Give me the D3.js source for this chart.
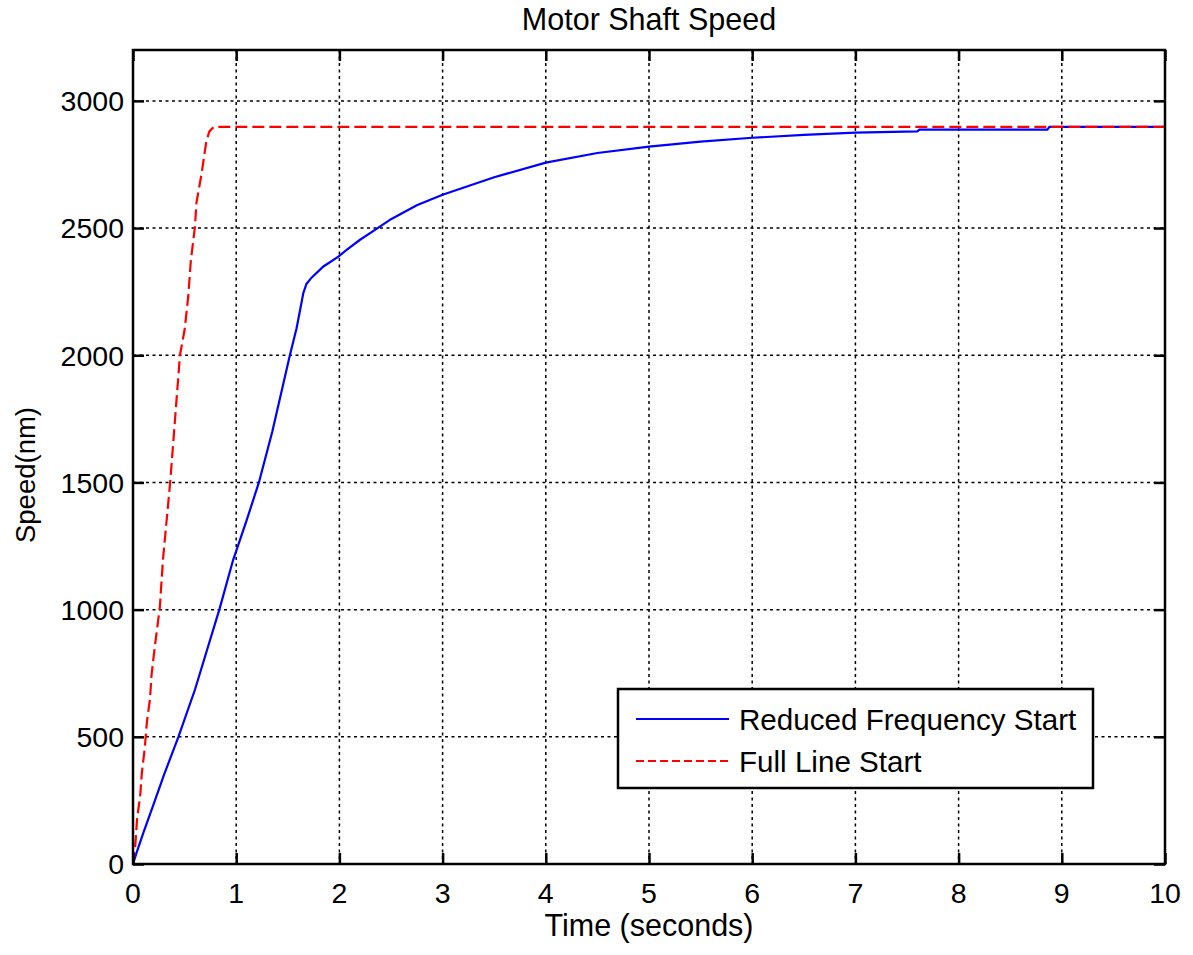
<!DOCTYPE html>
<html>
<head>
<meta charset="utf-8">
<script src="https://cdn.jsdelivr.net/npm/d3@7/dist/d3.min.js"></script>
<style>
  html, body { margin: 0; padding: 0; background: #fff; }
  svg { display: block; }
  text { font-family: Arial, "Liberation Sans", Helvetica, sans-serif; fill: #000; }
</style>
</head>
<body>
<script>
// ---- Data ----
const title = "Motor Shaft Speed";
const xLabel = "Time (seconds)";
const yLabel = "Speed(nm)";
const xTicks = [0, 1, 2, 3, 4, 5, 6, 7, 8, 9, 10];
const yTicks = [0, 500, 1000, 1500, 2000, 2500, 3000];
const seriesNames = ["Reduced Frequency Start", "Full Line Start"];

const reducedT = [0, 0.035, 0.1, 0.2, 0.3, 0.44, 0.6, 0.84, 0.97, 1.1, 1.22, 1.35, 1.52, 1.585, 1.62, 1.65, 1.68, 1.73, 1.845, 1.99, 2.07, 2.2, 2.345, 2.5, 2.75, 3.0, 3.5, 4.0, 4.5, 5.0, 5.5, 6.0, 6.5, 7.0, 7.6, 7.62, 8.86, 8.88, 10];
const reducedV = [0, 45, 122, 235, 350, 500, 685, 1005, 1195, 1350, 1500, 1700, 2000, 2106, 2180, 2244, 2280, 2305, 2349, 2388, 2414, 2454, 2493, 2535, 2590, 2631, 2700, 2757, 2795, 2820, 2840, 2855, 2866, 2875, 2880, 2887, 2887, 2898, 2898];

const fullT = [0, 0.02, 0.04, 0.07, 0.085, 0.115, 0.135, 0.165, 0.18, 0.21, 0.26, 0.29, 0.36, 0.455, 0.50, 0.535, 0.56, 0.60, 0.615, 0.665, 0.71, 0.74, 0.78, 0.8, 10];
const fullV = [0, 60, 180, 270, 355, 460, 560, 650, 745, 850, 1010, 1195, 1500, 2000, 2100, 2230, 2370, 2505, 2600, 2715, 2840, 2880, 2897, 2898, 2898];

// ---- Layout ----
const W = 1193, H = 955;
const L = 133, R = 1165, T = 50, B = 864;

const svg = d3.select("body").append("svg").attr("width", W).attr("height", H);

const x = d3.scaleLinear().domain([0, 10]).range([L, R]);
const y = d3.scaleLinear().domain([0, 3200]).range([B, T]);

// grid
const grid = svg.append("g").attr("stroke", "#000").attr("stroke-width", 1.5).attr("stroke-dasharray", "3,3.5");
grid.selectAll("line.gx").data(xTicks).join("line")
  .attr("x1", d => x(d)).attr("x2", d => x(d)).attr("y1", T).attr("y2", B);
grid.selectAll("line.gy").data(yTicks).join("line")
  .attr("y1", d => y(d)).attr("y2", d => y(d)).attr("x1", L).attr("x2", R);

// lines
const line = d3.line().x(d => x(d[0])).y(d => y(d[1]));
const reduced = reducedT.map((t, i) => [t, reducedV[i]]);
const full = fullT.map((t, i) => [t, fullV[i]]);

svg.append("path").datum(reduced).attr("d", line)
  .attr("fill", "none").attr("stroke", "#0000ff").attr("stroke-width", 2.2);
svg.append("path").datum(full).attr("d", line)
  .attr("fill", "none").attr("stroke", "#ff0000").attr("stroke-width", 2.2)
  .attr("stroke-dasharray", "12,5");

// axes box with inward ticks (MATLAB style)
const tickLen = 11;
const bottomAxis = d3.axisBottom(x).tickValues(xTicks).tickSizeInner(-tickLen).tickSizeOuter(0).tickFormat("");
const topAxis = d3.axisTop(x).tickValues(xTicks).tickSizeInner(-tickLen).tickSizeOuter(0).tickFormat("");
const leftAxis = d3.axisLeft(y).tickValues(yTicks).tickSizeInner(-tickLen).tickSizeOuter(0).tickFormat("");
const rightAxis = d3.axisRight(y).tickValues(yTicks).tickSizeInner(-tickLen).tickSizeOuter(0).tickFormat("");
[[bottomAxis, `translate(0,${B})`], [topAxis, `translate(0,${T})`], [leftAxis, `translate(${L},0)`], [rightAxis, `translate(${R},0)`]]
  .forEach(([ax, tr]) => {
    const g = svg.append("g").attr("transform", tr).call(ax);
    g.selectAll("path.domain").remove();
    g.selectAll(".tick line").attr("stroke", "#000").attr("stroke-width", 2.5);
  });
svg.append("rect").attr("x", L).attr("y", T).attr("width", R - L).attr("height", B - T)
  .attr("fill", "none").attr("stroke", "#000").attr("stroke-width", 2.5);

// tick labels
svg.append("g").selectAll("text").data(xTicks).join("text")
  .attr("x", d => x(d)).attr("y", 903).attr("text-anchor", "middle")
  .style("font-size", "28.5px").text(d => d);
svg.append("g").selectAll("text").data(yTicks).join("text")
  .attr("x", 124).attr("y", d => y(d)).attr("dy", "0.36em").attr("text-anchor", "end")
  .style("font-size", "28.5px").text(d => d);

// titles
svg.append("text").attr("x", (L + R) / 2).attr("y", 30).attr("text-anchor", "middle")
  .style("font-size", "30.5px").text(title);
svg.append("text").attr("x", (L + R) / 2).attr("y", 936).attr("text-anchor", "middle")
  .style("font-size", "30.5px").text(xLabel);
svg.append("text").attr("transform", `translate(35,${(T + B) / 2 + 18}) rotate(-90)`)
  .attr("text-anchor", "middle").style("font-size", "27.5px").text(yLabel);

// legend
const lg = svg.append("g");
lg.append("rect").attr("x", 618).attr("y", 689).attr("width", 475).attr("height", 99)
  .attr("fill", "#fff").attr("stroke", "#000").attr("stroke-width", 2.5);
const rows = [
  { name: seriesNames[0], color: "#0000ff", dash: null, cy: 719 },
  { name: seriesNames[1], color: "#ff0000", dash: "8,4", cy: 761 }
];
rows.forEach(r => {
  lg.append("line").attr("x1", 636).attr("x2", 729).attr("y1", r.cy).attr("y2", r.cy)
    .attr("stroke", r.color).attr("stroke-width", 2).attr("stroke-dasharray", r.dash);
  lg.append("text").attr("x", 739).attr("y", r.cy).attr("dy", "0.36em")
    .style("font-size", "29.6px").text(r.name);
});
</script>
</body>
</html>
